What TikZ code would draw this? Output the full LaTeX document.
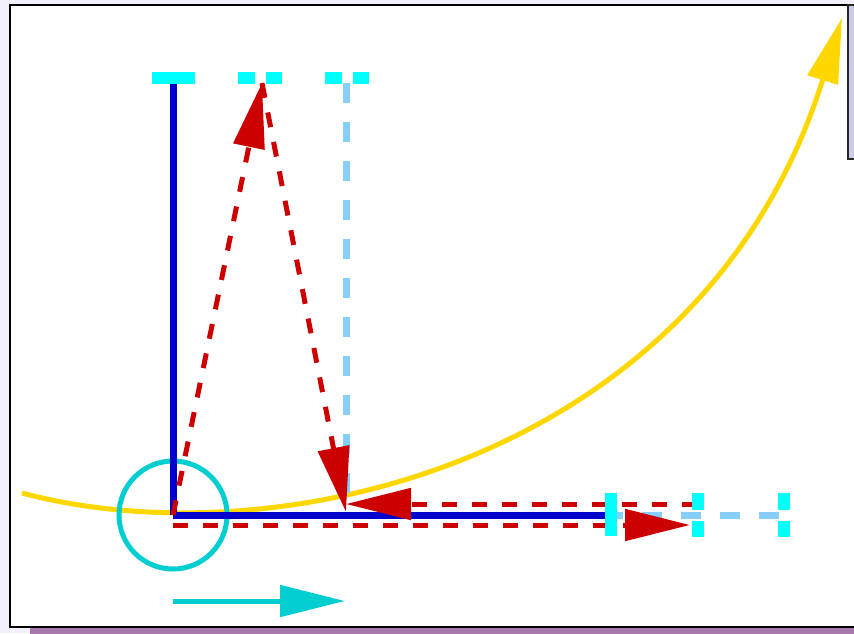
\documentclass[tikz,border=0pt]{standalone}
\usetikzlibrary{arrows.meta}
\definecolor{bglav}{HTML}{F3F0FC}
\definecolor{shadowp}{HTML}{A878AC}
\definecolor{boxlav}{HTML}{CCCCE8}
\definecolor{vblue}{HTML}{0000CC}
\definecolor{lblue}{HTML}{87CEFA}
\definecolor{vred}{HTML}{CC0000}
\definecolor{gold}{HTML}{FFD700}
\definecolor{turq}{HTML}{00CED1}
\definecolor{aqua}{HTML}{00FFFF}
\tikzset{
  bigtip/.tip={Triangle[length=48.75pt,width=23.25pt]},
  redarr/.style={draw=vred,line width=3.75pt,dash pattern=on 11.25pt off 11.25pt,-{bigtip[fill=vred,color=vred,sep=0pt]}},
  axisline/.style={draw=vblue,line width=5.25pt},
  ghostline/.style={draw=lblue,line width=5.25pt,dash pattern=on 15pt off 14.25pt},
  solidbar/.style={draw=aqua,line width=9pt},
  dashbar/.style={draw=aqua,line width=9pt,dash pattern=on 12.4pt off 8.25pt},
  goldcurve/.style={draw=gold,line width=3.75pt,-{bigtip[fill=gold,color=gold]}},
  turqline/.style={draw=turq,line width=3.75pt}
}
\begin{document}
\begin{tikzpicture}[x=0.75pt,y=-0.75pt]
\useasboundingbox (0,0) rectangle (854,633);
\clip (0,0) rectangle (854,633);
\fill[bglav] (0,0) rectangle (854,633);
% shadow and frame
\fill[shadowp] (30,10) rectangle (930,640);
\draw[black,line width=1.5pt,fill=white] (10,5) rectangle (910,627);
\draw[black!85,line width=1.5pt,fill=boxlav] (848,5) rectangle (910,159);
% points
\coordinate (O) at (173,515);
\coordinate (A) at (173,78);
\coordinate (P) at (262,83);
\coordinate (Q) at (346,512);
\coordinate (Ctop) at (346,83);
\coordinate (Cbot) at (346,515);
\coordinate (D) at (611,515);
\coordinate (F) at (783,515);
\coordinate (Ystart) at (22,493);
\coordinate (Yend) at (842,18);
% yellow curve
\draw[goldcurve] (Ystart) .. controls (272,560) and (702,466) .. (Yend);
% circle
\draw[turqline] (O) circle[radius=54];
% ghost (translated) axes
\draw[ghostline] (Ctop) -- (Cbot);
\draw[ghostline,dash phase=6pt] (D) -- (F);
% axes
\draw[axisline] (O) -- (A);
\draw[axisline] (O) -- (D);
% red vectors
\draw[redarr] (O) -- (P);
\draw[redarr] (P) -- (Q);
\draw[redarr] (697,504) -- (346,504);
\draw[redarr] (173,525) -- (690,525);
% bar tips
\draw[solidbar] (152,78) -- (195,78);
\draw[dashbar] (238,78) -- (282,78);
\draw[dashbar] (325,78) -- (369,78);
\draw[solidbar] (611,493) -- (611,536);
\draw[dashbar] (697.5,493) -- (697.5,537);
\draw[dashbar] (783.5,493) -- (783.5,537);
% turquoise arrow
\coordinate (S) at (173,601);
\coordinate (T) at (345,601);
\draw[turqline,-{bigtip[fill=turq,color=turq]}] (S) -- (T);
\end{tikzpicture}
\end{document}
